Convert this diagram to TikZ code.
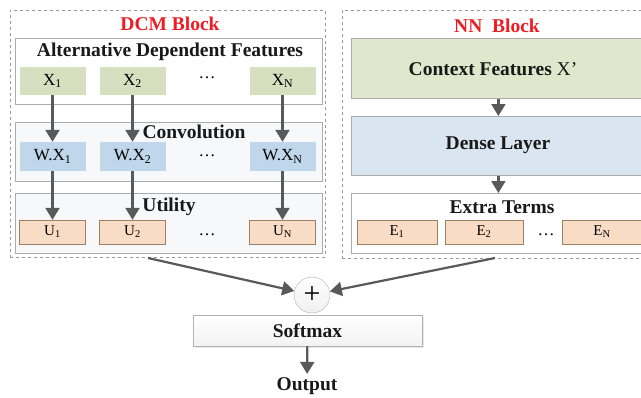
\documentclass[tikz,border=0pt]{standalone}
\usepackage{fontspec}
\setmainfont{Liberation Serif}
\usetikzlibrary{
    positioning,
    arrows.meta,
    shadows
}
\definecolor{titlered}{HTML}{EE1D23}
\definecolor{featgreen}{HTML}{D6DFBF}
\definecolor{ctxgreen}{HTML}{DFE7CC}
\definecolor{convblue}{HTML}{C0D6EA}
\definecolor{denseblue}{HTML}{D9E5F0}
\definecolor{utilpeach}{HTML}{F8DCC5}
\definecolor{layerbg}{HTML}{F6F8FA}

\begin{document}
\begin{tikzpicture}[
    x=1pt, y=-1pt,
    % Estilos de Bloques
    block/.style={draw=gray!80, dashed, line width=0.8pt, anchor=north west, inner sep=0pt},
    layer/.style={draw=gray!65, line width=0.8pt, fill=#1, anchor=north west, inner sep=0pt},
    title/.style={text=titlered, font=\fontsize{19.5}{22}\bfseries\selectfont},
    head/.style={font=\fontsize{19.5}{22}\bfseries\selectfont, text=black!90},
    % Estilos de Nodos
    feat/.style={fill=featgreen, minimum width=66pt, minimum height=28pt, inner sep=0pt, font=\fontsize{17}{19}\selectfont},
    conv/.style={fill=convblue, minimum width=66pt, minimum height=29pt, inner sep=0pt, font=\fontsize{17}{19}\selectfont},
    util/.style={draw=brown!45!gray, fill=utilpeach, minimum width=66pt, minimum height=24pt, inner sep=0pt, font=\fontsize{15}{17}\selectfont},
    dots/.style={font=\fontsize{17}{19}\selectfont},
    % Estilos de Flechas
    arrow/.style={-{Triangle[width=14pt, length=12pt]}, line width=2.2pt, draw=black!65}
]
\clip (0,0) rectangle (641,397);
\useasboundingbox (0,0) rectangle (641,397);

% --- Bloque DCM ---
\node[block, minimum width=315, minimum height=247] (dcm) at (10,10) {};
\node[title] (dcm_title) at (170,24) {DCM Block};

\node[layer=white, minimum width=307, minimum height=66] (adf) at (15,38) {};
\node[layer=layerbg, minimum width=307, minimum height=59] (cnv) at (15,122) {};
\node[layer=layerbg, minimum width=307, minimum height=60] (utl) at (15,193) {};

\node[head] (adf_title) at (170,52) {Alternative Dependent Features};
\node[head] (cnv_title) at (194,132) {Convolution};
\node[head] (utl_title) at (169,207) {Utility};

% --- Fila de X ---
\node[feat] (x_1) at (52.5,81) {X\textsubscript{1}};
\node[feat] (x_2) at (132.5,81) {X\textsubscript{2}};
\node[dots] (x_d) at (207,78) {\dots};
\node[feat] (x_n) at (282.5,81) {X\textsubscript{N}};

% --- Fila de W.X ---
\node[conv] (w_1) at (52.5,156.5) {W.X\textsubscript{1}};
\node[conv] (w_2) at (132.5,156.5) {W.X\textsubscript{2}};
\node[dots] (w_d) at (207,156) {\dots};
\node[conv] (w_n) at (282.5,156.5) {W.X\textsubscript{N}};

% --- Fila de U ---
\node[util] (u_1) at (52.5,232) {U\textsubscript{1}};
\node[util] (u_2) at (132.5,232) {U\textsubscript{2}};
\node[dots] (u_d) at (207,235) {\dots};
\node[util] (u_n) at (282.5,232) {U\textsubscript{N}};

\draw[arrow] (x_1) -- (w_1);
\draw[arrow] (x_2) -- (w_2);
\draw[arrow] (x_n) -- (w_n);
\draw[arrow] (w_1) -- (u_1);
\draw[arrow] (w_2) -- (u_2);
\draw[arrow] (w_n) -- (u_n);

% --- Bloque NN ---
\node[block, minimum width=320, minimum height=248] (nn) at (342,10) {};
\node[title] (nn_title) at (497,26) {NN~ Block};

\node[layer=ctxgreen, minimum width=294, minimum height=60] (ctx) at (351,38) {};
\node[layer=denseblue, minimum width=294, minimum height=59] (dense) at (351,116) {};
\node[layer=white, minimum width=294, minimum height=60] (extra) at (351,193) {};

\node[head] (ctx_title) at (493,69) {Context Features {\mdseries X’}};
\node[head] (dense_title) at (498,145) {Dense Layer};
\node[head] (extra_title) at (502,207) {Extra Terms};

\node[util, minimum width=80pt] (e_1) at (397,232) {E\textsubscript{1}};
\node[util, minimum width=78pt] (e_2) at (484,232) {E\textsubscript{2}};
\node[dots] (e_d) at (546,235) {\dots};
\node[util, minimum width=80pt] (e_n) at (602,232) {E\textsubscript{N}};

\draw[arrow] (ctx.south -| dense.north) -- (dense.north);
\draw[arrow] (dense.south) -- (extra.north);

% --- Suma y Softmax ---
\node[circle, draw=gray!60, top color=white, bottom color=gray!12, minimum size=36pt, inner sep=0pt,
      font=\fontsize{30}{30}\selectfont] (plus) at (312,295) {+};
\node[draw=gray!60, top color=white, bottom color=gray!10, minimum width=229pt, minimum height=31pt,
      drop shadow={shadow xshift=1.5pt, shadow yshift=-1.5pt, fill=gray!35}] (softmax) at (307.5,330.5) {};
\node[head] (softmax_title) at (softmax) {Softmax};
\node[head] (output) at (307,386) {Output};

\coordinate (dcm_out) at (148,258);
\coordinate (nn_out) at (495,258);

\draw[arrow] (dcm_out) -- (plus);
\draw[arrow] (nn_out) -- (plus);
\draw[arrow] (softmax) -- (output);

\end{tikzpicture}
\end{document}
